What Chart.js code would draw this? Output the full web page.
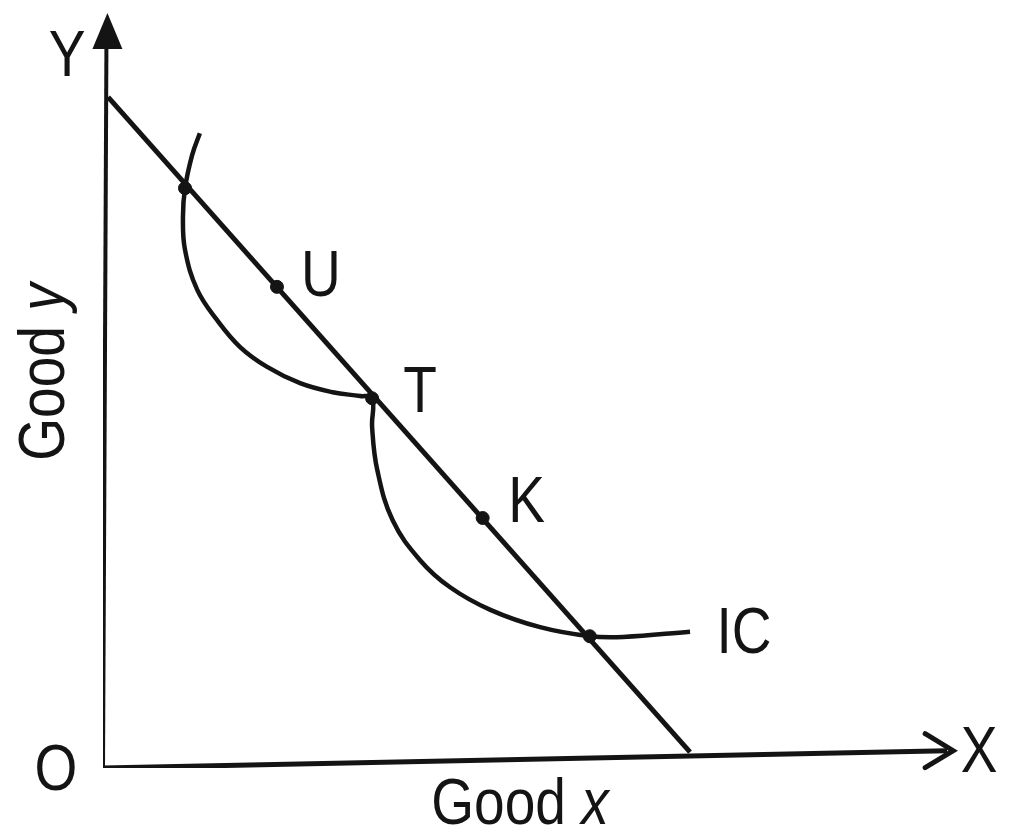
<!DOCTYPE html>
<html>
<head>
<meta charset="utf-8">
<script src="https://cdn.jsdelivr.net/npm/chart.js@4.4.0/dist/chart.umd.min.js"></script>
<style>
  html, body { margin: 0; padding: 0; background: #fff; }
  #wrap { width: 1009px; height: 836px; }
</style>
</head>
<body>
<div id="wrap"><canvas id="myChart"></canvas></div>
<script>
// axes (good x / good y units)
const xAxisX = [0, 9.85];
const xAxisY = [0, 0.23];
const yAxisX = [0, 0.04];
const yAxisY = [0, 9.6];

// budget line
const budgetX = [0.06, 6.85];
const budgetY = [8.91, 0.21];

// indifference curve IC
const icX = [1.13, 1.04, 0.957, 0.933, 0.957, 1.10, 1.33, 1.60, 1.91, 2.30, 2.68, 3.00, 3.14,
             3.14, 3.20, 3.38, 3.70, 4.05, 4.52, 5.10, 5.68, 6.07, 6.85];
const icY = [8.43, 8.14, 7.70, 7.32, 6.88, 6.35, 5.95, 5.59, 5.33, 5.11, 4.99, 4.94, 4.91,
             4.53, 3.96, 3.29, 2.76, 2.40, 2.10, 1.87, 1.75, 1.74, 1.81];

// bundles marked on the budget line
const pointNames = ["", "U", "T", "K", ""];
const pointX = [0.957, 2.03, 3.14, 4.43, 5.68];
const pointY = [7.70, 6.39, 4.91, 3.32, 1.75];

const toXY = (xs, ys) => xs.map((x, i) => ({ x: x, y: ys[i] }));

const ink = "#141414";
const font = "'Liberation Sans', Arial, sans-serif";
const size = 64;
const squeeze = 0.86;

// text a bit narrower than the font, like the hand-lettered original
function drawText(ctx, parts, cx, cy) {
  ctx.save();
  ctx.translate(cx, cy);
  ctx.scale(squeeze, 1);
  let total = 0;
  parts.forEach(p => {
    ctx.font = (p.italic ? "italic " : "") + size + "px " + font;
    total += ctx.measureText(p.t).width;
  });
  let x = -total / 2;
  ctx.textAlign = "left";
  ctx.textBaseline = "middle";
  parts.forEach(p => {
    ctx.font = (p.italic ? "italic " : "") + size + "px " + font;
    ctx.fillText(p.t, x, 0);
    x += ctx.measureText(p.t).width;
  });
  ctx.restore();
}

const labelsPlugin = {
  id: "diagramText",
  afterDatasetsDraw(chart) {
    const ctx = chart.ctx;
    const sx = chart.scales.x, sy = chart.scales.y;
    ctx.save();
    ctx.fillStyle = ink;
    ctx.strokeStyle = ink;

    // y arrowhead
    const yTopX = sx.getPixelForValue(yAxisX[1]);
    const yTopY = sy.getPixelForValue(yAxisY[1]);
    ctx.beginPath();
    ctx.moveTo(yTopX + 1, yTopY - 32);
    ctx.lineTo(yTopX - 14, yTopY + 4);
    ctx.lineTo(yTopX + 16, yTopY + 4);
    ctx.closePath();
    ctx.fill();

    // x arrowhead (open)
    const xEndX = sx.getPixelForValue(xAxisX[1]);
    const xEndY = sy.getPixelForValue(xAxisY[1]);
    ctx.lineWidth = 5;
    ctx.lineCap = "round";
    ctx.beginPath();
    ctx.moveTo(xEndX - 22, xEndY - 17);
    ctx.lineTo(xEndX + 6, xEndY);
    ctx.lineTo(xEndX - 22, xEndY + 17);
    ctx.stroke();

    // point labels
    const offs = { U: [44, -8], T: [48, -4], K: [44, -14] };
    pointNames.forEach((n, i) => {
      if (!n) return;
      const px = sx.getPixelForValue(pointX[i]);
      const py = sy.getPixelForValue(pointY[i]);
      drawText(ctx, [{ t: n }], px + offs[n][0], py + offs[n][1]);
    });

    // IC label at the end of the curve
    const icEndX = sx.getPixelForValue(icX[icX.length - 1]);
    const icEndY = sy.getPixelForValue(icY[icY.length - 1]);
    drawText(ctx, [{ t: "IC" }], icEndX + 54, icEndY + 4);

    // axis letters
    const ox = sx.getPixelForValue(0), oy = sy.getPixelForValue(0);
    drawText(ctx, [{ t: "O" }], ox - 47, oy + 4);
    drawText(ctx, [{ t: "X" }], xEndX + 32, xEndY + 4);
    drawText(ctx, [{ t: "Y" }], ox - 36, 58);

    // axis titles
    drawText(ctx, [{ t: "Good " }, { t: "x", italic: true }], 520, 806);
    ctx.save();
    ctx.translate(46, 372);
    ctx.rotate(-Math.PI / 2);
    drawText(ctx, [{ t: "Good " }, { t: "y", italic: true }], 0, 0);
    ctx.restore();

    ctx.restore();
  }
};

new Chart(document.getElementById("myChart").getContext("2d"), {
  type: "scatter",
  data: {
    datasets: [
      { label: "x axis", data: toXY(xAxisX, xAxisY), showLine: true, borderColor: ink, borderWidth: 5, pointRadius: 0, tension: 0 },
      { label: "y axis", data: toXY(yAxisX, yAxisY), showLine: true, borderColor: ink, borderWidth: 4, pointRadius: 0, tension: 0 },
      { label: "Budget line", data: toXY(budgetX, budgetY), showLine: true, borderColor: ink, borderWidth: 5, pointRadius: 0, tension: 0 },
      { label: "IC", data: toXY(icX, icY), showLine: true, borderColor: ink, borderWidth: 4.5, pointRadius: 0, tension: 0.4 },
      { label: "Bundles", data: toXY(pointX, pointY), showLine: false, pointRadius: 6.5, pointBackgroundColor: ink, pointBorderColor: ink }
    ]
  },
  options: {
    responsive: true,
    maintainAspectRatio: false,
    animation: false,
    layout: { padding: { left: 103, right: 49, top: 15, bottom: 68 } },
    plugins: { legend: { display: false }, tooltip: { enabled: false } },
    scales: {
      x: { type: "linear", min: 0, max: 10, display: false },
      y: { type: "linear", min: 0, max: 10, display: false }
    }
  },
  plugins: [labelsPlugin]
});
</script>
</body>
</html>
